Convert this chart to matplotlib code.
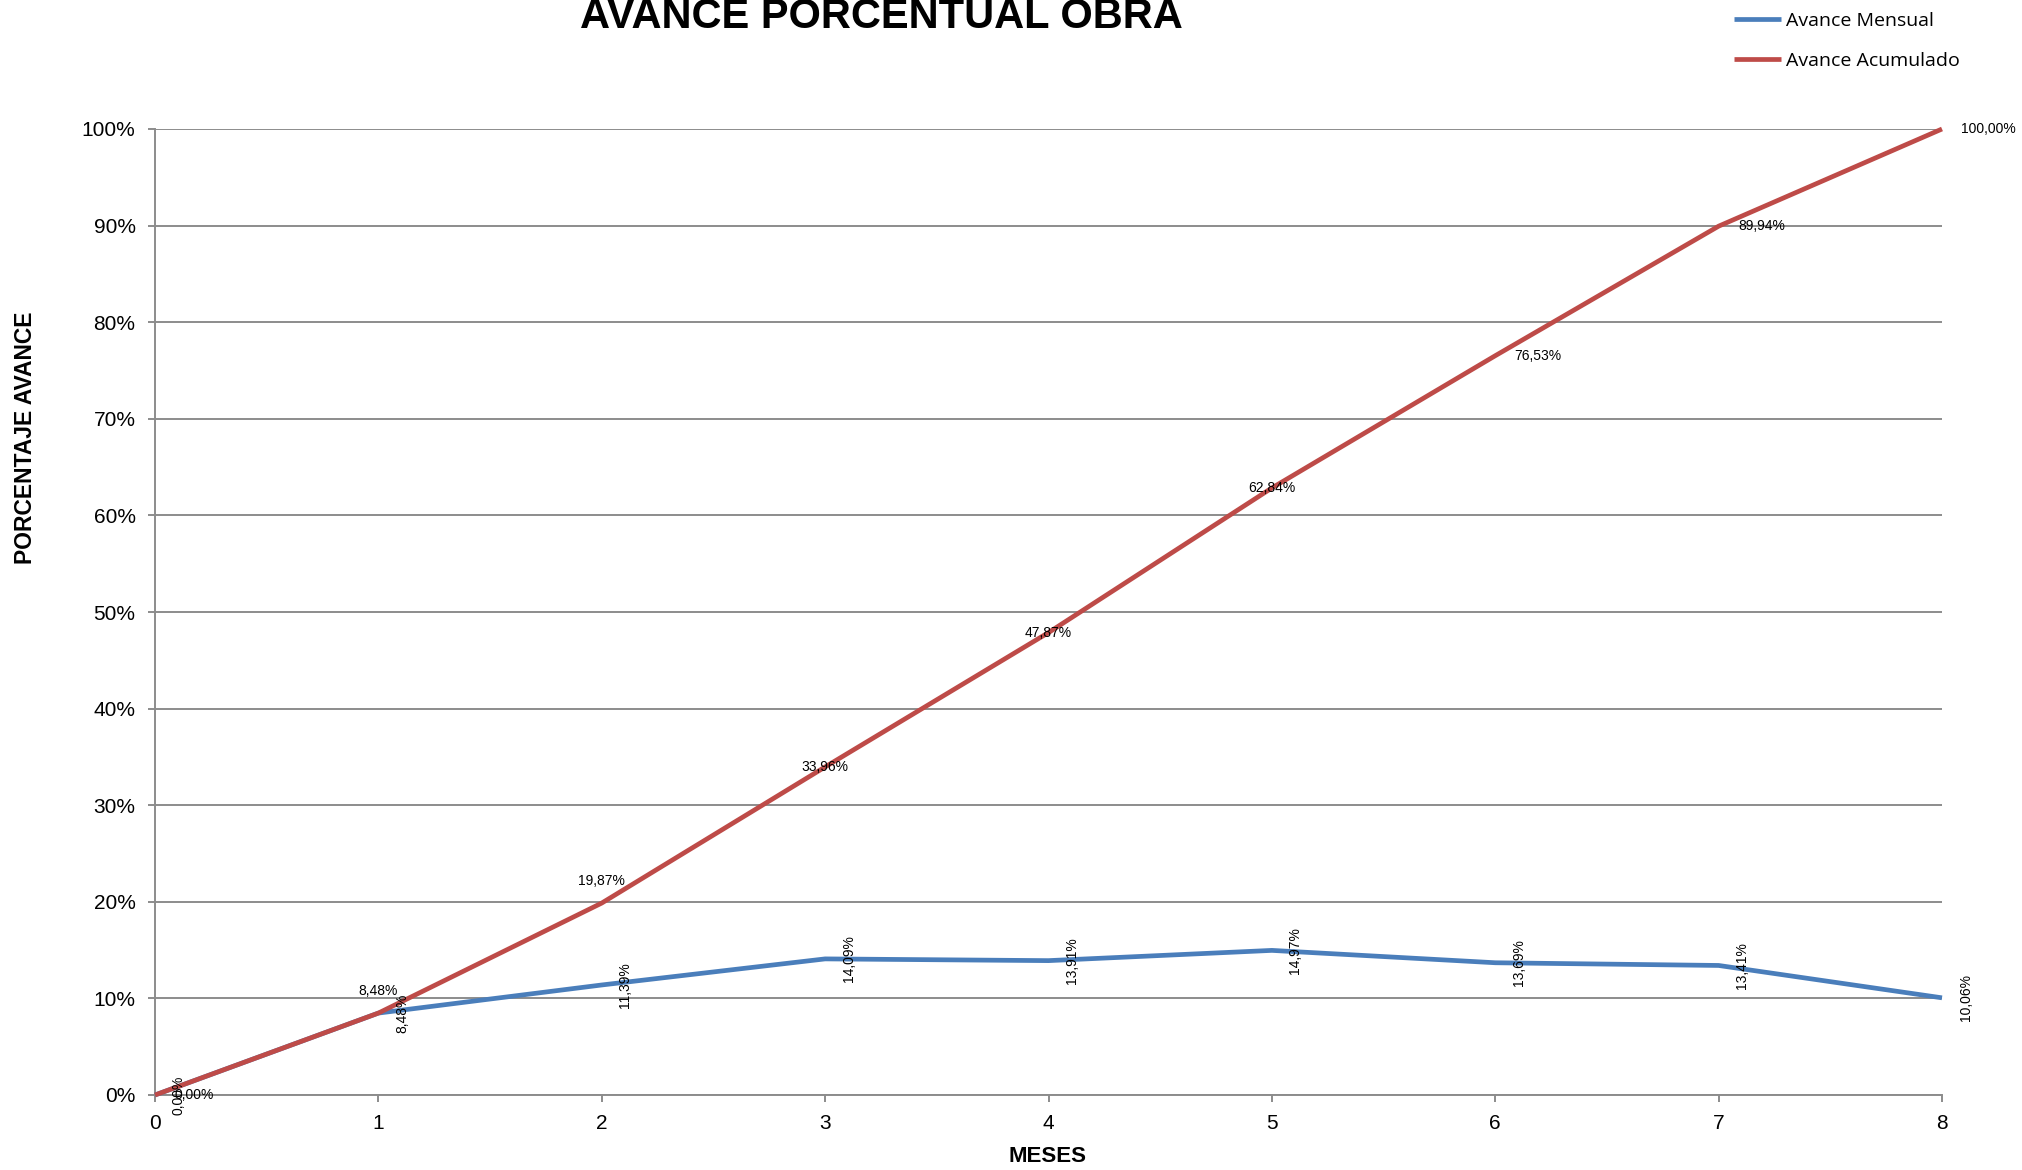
import matplotlib
matplotlib.use("Agg")
import matplotlib.pyplot as plt
from matplotlib.ticker import PercentFormatter, MultipleLocator

plt.rcParams["font.family"] = ["Liberation Sans", "DejaVu Sans"]

# datos
meses = [0, 1, 2, 3, 4, 5, 6, 7, 8]
avance_mensual = [0.00, 8.48, 11.39, 14.09, 13.91, 14.97, 13.69, 13.41, 10.06]
avance_acumulado = [0.00, 8.48, 19.87, 33.96, 47.87, 62.84, 76.53, 89.94, 100.00]

# posicion de etiquetas de la serie acumulada (como en Excel)
pos_acum = ["right", "above", "above", "center", "center", "center", "right", "right", "right"]

AZUL = "#4A7EBB"
ROJO = "#BE4B48"
GRIS = "#8C8C8C"


def fmt(v):
    return f"{v:.2f}%".replace(".", ",")


fig = plt.figure(figsize=(20.22, 11.70), dpi=100)
ax = fig.add_axes([155 / 2022, 1 - 1095 / 1170, (1942 - 155) / 2022, (1095 - 129) / 1170])

ax.plot(meses, avance_mensual, color=AZUL, lw=3.4, label="Avance Mensual",
        solid_capstyle="butt", zorder=3, clip_on=False)
ax.plot(meses, avance_acumulado, color=ROJO, lw=3.4, label="Avance Acumulado",
        solid_capstyle="butt", zorder=4, clip_on=False)

# etiquetas
for x, v in zip(meses, avance_mensual):
    ax.annotate(fmt(v), (x, v), xytext=(17, 0), textcoords="offset points",
                rotation=90, ha="center", va="center", fontsize=10, zorder=6)

for x, v, p in zip(meses, avance_acumulado, pos_acum):
    if p == "right":
        ax.annotate(fmt(v), (x, v), xytext=(14, 0), textcoords="offset points",
                    ha="left", va="center", fontsize=10, zorder=6)
    elif p == "above":
        ax.annotate(fmt(v), (x, v), xytext=(0, 16), textcoords="offset points",
                    ha="center", va="center", fontsize=10, zorder=6)
    else:
        ax.annotate(fmt(v), (x, v), ha="center", va="center", fontsize=10, zorder=6)

ax.set_xlim(0, 8)
ax.set_ylim(0, 100)
ax.xaxis.set_major_locator(MultipleLocator(1))
ax.yaxis.set_major_locator(MultipleLocator(10))
ax.yaxis.set_major_formatter(PercentFormatter(100, decimals=0))

ax.grid(axis="y", color=GRIS, lw=1.4, zorder=1)
ax.set_axisbelow(True)
for s in ["top", "right"]:
    ax.spines[s].set_visible(False)
for s in ["left", "bottom"]:
    ax.spines[s].set_color(GRIS)
    ax.spines[s].set_linewidth(1.4)
ax.tick_params(axis="both", colors=GRIS, length=5, width=1.4, labelsize=15,
               labelcolor="black", pad=9)

fig.text(881 / 2022, 1 - 28 / 1170, "AVANCE PORCENTUAL OBRA", ha="center",
         va="baseline", fontsize=30, fontweight="bold")
fig.text(26 / 2022, 1 - 438 / 1170, "PORCENTAJE AVANCE", rotation=90, ha="center",
         va="center", fontsize=16.5, fontweight="bold")
fig.text(1048 / 2022, 1 - 1157 / 1170, "MESES", ha="center", va="center",
         fontsize=16, fontweight="bold")

fig.legend(loc="upper left", bbox_to_anchor=(1734 / 2022, 0.990), frameon=False,
           prop={"family": "Open Sans", "size": 14}, handlelength=2.4,
           handletextpad=0.3, labelspacing=1.15, borderpad=0, borderaxespad=0)

fig.savefig("out.png", dpi=100)
